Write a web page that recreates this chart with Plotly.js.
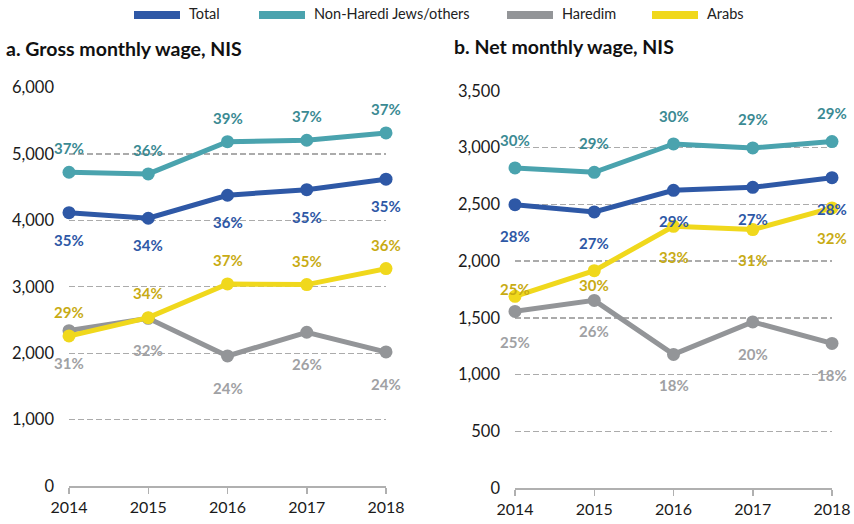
<!DOCTYPE html>
<html>
<head>
<meta charset="utf-8">
<script src="https://cdn.plot.ly/plotly-3.0.1.min.js"></script>
<style>html,body{margin:0;padding:0;background:#fff;}#chart{width:854px;height:524px;}</style>
</head>
<body>
<div id="chart"></div>
<script>
// ---------- DATA ----------
var years = [2014, 2015, 2016, 2017, 2018];
var seriesNames = ["Total", "Non-Haredi Jews/others", "Haredim", "Arabs"];

// a. Gross monthly wage, NIS
var grossTotal     = [4116, 4031, 4378, 4462, 4619];
var grossNonHaredi = [4724, 4699, 5185, 5206, 5316];
var grossHaredim   = [2339, 2525, 1958, 2315, 2018];
var grossArabs     = [2259, 2535, 3042, 3032, 3273];
var grossTotalPct     = ["35%", "34%", "36%", "35%", "35%"];
var grossNonHarediPct = ["37%", "36%", "39%", "37%", "37%"];
var grossHaredimPct   = ["31%", "32%", "24%", "26%", "24%"];
var grossArabsPct     = ["29%", "34%", "37%", "35%", "36%"];

// b. Net monthly wage, NIS
var netTotal     = [2498, 2434, 2624, 2651, 2736];
var netNonHaredi = [2822, 2783, 3033, 2998, 3054];
var netHaredim   = [1557, 1654, 1178, 1464, 1275];
var netArabs     = [1690, 1916, 2307, 2278, 2469];
var netTotalPct     = ["28%", "27%", "29%", "27%", "28%"];
var netNonHarediPct = ["30%", "29%", "30%", "29%", "29%"];
var netHaredimPct   = ["25%", "26%", "18%", "20%", "18%"];
var netArabsPct     = ["25%", "30%", "33%", "31%", "32%"];

var grossTicks = [0, 1000, 2000, 3000, 4000, 5000, 6000];
var netTicks = [0, 500, 1000, 1500, 2000, 2500, 3000, 3500];

// ---------- STYLE ----------
var FONT = "Lato, 'Open Sans', sans-serif";
var W = 854, H = 524;
var lineColors  = {"Total": "#2e58a6", "Non-Haredi Jews/others": "#4aa3ae", "Haredim": "#939598", "Arabs": "#f0d81c"};
var labelColors = {"Total": "#2e58a6", "Non-Haredi Jews/others": "#3b8a93", "Haredim": "#a0a1a4", "Arabs": "#c8ab14"};
// legend swatch left edges (px)
var legendX = {"Total": 134, "Non-Haredi Jews/others": 259, "Haredim": 507, "Arabs": 652};

var panels = [
  {xa: "x", ya: "y", series: {
      "Total": [grossTotal, grossTotalPct, [-27,-27,-27,-27,-27]],
      "Non-Haredi Jews/others": [grossNonHaredi, grossNonHarediPct, [24,24,24,24,24]],
      "Haredim": [grossHaredim, grossHaredimPct, [-32,-32,-32,-32,-32]],
      "Arabs": [grossArabs, grossArabsPct, [24,25,24,24,24]]
  }},
  {xa: "x2", ya: "y2", series: {
      "Total": [netTotal, netTotalPct, [-31,-31,-31,-32,-31]],
      "Non-Haredi Jews/others": [netNonHaredi, netNonHarediPct, [28,29,28,29,29]],
      "Haredim": [netHaredim, netHaredimPct, [-31,-31,-31,-32,-32]],
      "Arabs": [netArabs, netArabsPct, [7,-14,-31,-30,-30]]
  }}
];

var drawOrder = ["Haredim", "Arabs", "Non-Haredi Jews/others", "Total"];
var traces = [];
var annotations = [];
var shapes = [];

panels.forEach(function(p){
  drawOrder.forEach(function(name){
    var s = p.series[name];
    traces.push({
      x: years, y: s[0], xaxis: p.xa, yaxis: p.ya, name: name,
      type: "scatter", mode: "lines+markers",
      line: {color: lineColors[name], width: 5},
      marker: {color: lineColors[name], size: 13},
      cliponaxis: false, showlegend: false, hoverinfo: "skip"
    });
  });
  seriesNames.forEach(function(name){
    var s = p.series[name];
    for (var i = 0; i < years.length; i++) {
      annotations.push({
        x: years[i], y: s[0][i], xref: p.xa, yref: p.ya,
        text: s[1][i], showarrow: false, yshift: s[2][i],
        font: {family: FONT, size: 15, color: labelColors[name], weight: "bold"}
      });
    }
  });
});

// manual legend (swatches + labels)
seriesNames.forEach(function(name){
  var x0 = legendX[name];
  shapes.push({
    type: "rect", xref: "paper", yref: "paper",
    x0: x0 / W, x1: (x0 + 46) / W, y0: 1 - 19 / H, y1: 1 - 11 / H,
    fillcolor: lineColors[name], line: {width: 0}
  });
  annotations.push({
    xref: "paper", yref: "paper", x: (x0 + 53) / W, y: 1 - 14 / H,
    xanchor: "left", yanchor: "middle", text: name, showarrow: false,
    font: {family: FONT, size: 14.5, color: "#222"}
  });
});

annotations.push({
  xref: "paper", yref: "paper", x: 4/W, y: 1 - 48/H, xanchor: "left", yanchor: "middle",
  text: "<b>a. Gross monthly wage, NIS</b>", showarrow: false,
  font: {family: FONT, size: 19.5, color: "#111"}
});
annotations.push({
  xref: "paper", yref: "paper", x: 452/W, y: 1 - 47/H, xanchor: "left", yanchor: "middle",
  text: "<b>b. Net monthly wage, NIS</b>", showarrow: false,
  font: {family: FONT, size: 19.5, color: "#111"}
});

function xAxis(domain, anchor){
  return {
    domain: domain, anchor: anchor, type: "linear", range: [2014, 2018],
    tickvals: years, ticktext: years.map(String),
    showgrid: false, zeroline: false,
    showline: true, linecolor: "#b0b0b0", linewidth: 1.5,
    ticks: "outside", ticklen: 6, tickcolor: "#b0b0b0", tickwidth: 1.5,
    tickfont: {family: FONT, size: 16, color: "#1a1a1a"},
    fixedrange: true
  };
}
function yAxis(domain, anchor, ticks){
  return {
    domain: domain, anchor: anchor,
    range: [ticks[0], ticks[ticks.length - 1]],
    tickvals: ticks, ticktext: ticks.map(function(v){ return v.toLocaleString("en-US"); }),
    showgrid: true, gridcolor: "#ababab", griddash: "6px,3px", gridwidth: 1.3,
    zeroline: false, showline: false, ticks: "",
    ticklabelstandoff: 14,
    tickfont: {family: FONT, size: 16.5, color: "#1a1a1a"},
    fixedrange: true
  };
}

var layout = {
  width: W, height: H,
  margin: {l: 0, r: 0, t: 0, b: 0},
  paper_bgcolor: "#ffffff", plot_bgcolor: "#ffffff",
  font: {family: FONT},
  xaxis: xAxis([69/W, 386/W], "y"),
  yaxis: yAxis([1 - 486/H, 1 - 87.5/H], "x", grossTicks),
  xaxis2: xAxis([515/W, 832/W], "y2"),
  yaxis2: yAxis([1 - 488/H, 1 - 91/H], "x2", netTicks),
  showlegend: false,
  shapes: shapes,
  annotations: annotations
};

Plotly.newPlot("chart", traces, layout, {staticPlot: true, displayModeBar: false});
</script>
</body>
</html>
